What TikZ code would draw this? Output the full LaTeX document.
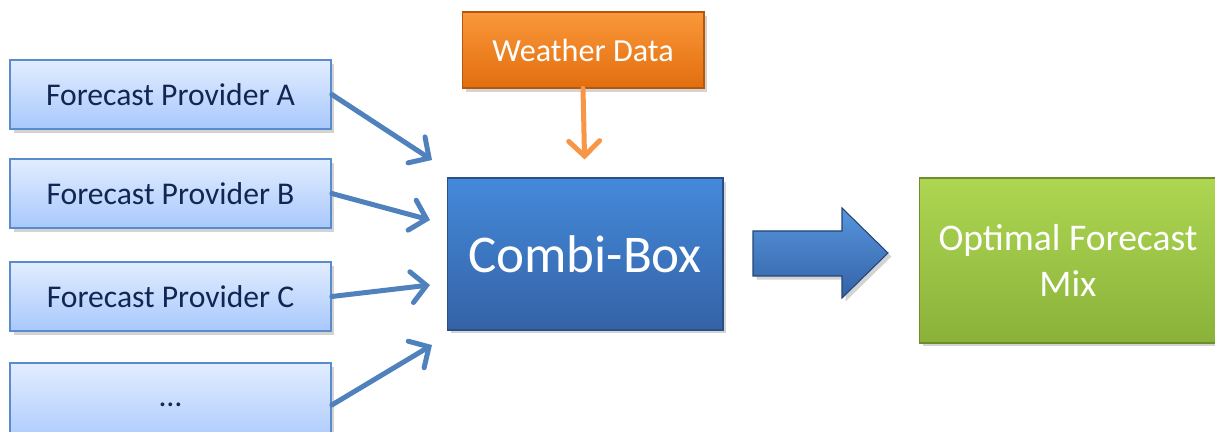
\documentclass[tikz,border=0pt]{standalone}
\usepackage{fontspec}
\setmainfont{Carlito}
\usepackage{tikz}
\usetikzlibrary{arrows.meta,shadows}
\usepackage{xcolor}
\definecolor{provtop}{RGB}{226,237,255}
\definecolor{provbot}{RGB}{168,200,252}
\definecolor{provline}{RGB}{90,140,205}
\definecolor{navy}{RGB}{18,38,84}
\definecolor{linkblue}{RGB}{79,129,189}
\definecolor{wtop}{RGB}{250,152,58}
\definecolor{wbot}{RGB}{226,110,14}
\definecolor{linkorange}{RGB}{247,150,70}
\definecolor{ctop}{RGB}{68,138,218}
\definecolor{cbot}{RGB}{52,98,166}
\definecolor{gtop}{RGB}{174,214,82}
\definecolor{gbot}{RGB}{138,178,58}
\tikzset{%
    provider/.style={%
        draw=provline, line width=1pt, top color=provtop, bottom color=provbot,
        minimum width=6.42cm, minimum height=1.38cm, inner sep=0pt,
        text=navy, font=\fontsize{18}{21}\selectfont,
        drop shadow={opacity=0.35, shadow xshift=2pt, shadow yshift=-2pt}
    },
    feed/.style={%
        -{Straight Barb[length=0.3cm, width=0.62cm, line cap=round]},
        line width=0.1cm, line cap=round
    }
}

\begin{document}
\begin{tikzpicture}[x=0.02cm, y=-0.02cm]
    \useasboundingbox (0,0) rectangle (1215,432);
%-----------------------------------------------
    \node[provider] (provA) at (170.5,94.5) {Forecast Provider A};
    \node[provider] (provB) at (170.5,193.5) {Forecast Provider B};
    \node[provider] (provC) at (170.5,296.5) {Forecast Provider C};
    \node[provider, minimum height=1.68cm] (provD) at (170.5,405) {\dots};
%-----------------------------------------------
    \node[draw=wbot!80!black, line width=0.6pt, top color=wtop, bottom color=wbot,
        minimum width=4.84cm, minimum height=1.52cm, inner sep=0pt,
        text=white, font=\fontsize{18.3}{21}\selectfont,
        drop shadow={opacity=0.35, shadow xshift=2pt, shadow yshift=-2pt}]
        (weather) at (583,50) {Weather Data};
    \node[draw=cbot!80!black, line width=0.6pt, top color=ctop, bottom color=cbot,
        minimum width=5.52cm, minimum height=3.04cm, inner sep=0pt,
        text=white, font=\fontsize{30.2}{34}\selectfont,
        drop shadow={opacity=0.35, shadow xshift=2pt, shadow yshift=-2pt}]
        (combi) at (585,254) {Combi-Box};
    \node[draw=gbot!80!black, line width=0.6pt, top color=gtop, bottom color=gbot,
        minimum width=5.96cm, minimum height=3.30cm, inner sep=0pt, align=center,
        text=white, font=\fontsize{21.4}{26}\selectfont,
        drop shadow={opacity=0.35, shadow xshift=2pt, shadow yshift=-2pt}]
        (mix) at (1068,260.5) {Optimal Forecast\\Mix};
%-----------------------------------------------
    \coordinate (inA) at (432,160);
    \coordinate (inB) at (430,220);
    \coordinate (inC) at (430,285);
    \coordinate (inD) at (432,345);
    \draw[feed, color=linkblue] (provA.east) -- (inA);
    \draw[feed, color=linkblue] (provB.east) -- (inB);
    \draw[feed, color=linkblue] (provC.east) -- (inC);
    \draw[feed, color=linkblue] (provD.east) -- (inD);
    \draw[feed, color=linkorange, shorten >=0.36cm] (weather.south) -- (combi.north);
%-----------------------------------------------
    \shade[top color=ctop!90!white, bottom color=cbot, draw=cbot!70!black, line width=0.6pt,
        drop shadow={opacity=0.35, shadow xshift=2pt, shadow yshift=-2pt}]
        (753,231) -- (842,231) -- (842,208) -- (888,253) -- (842,298) -- (842,276) -- (753,276) -- cycle;
\end{tikzpicture}
\end{document}
